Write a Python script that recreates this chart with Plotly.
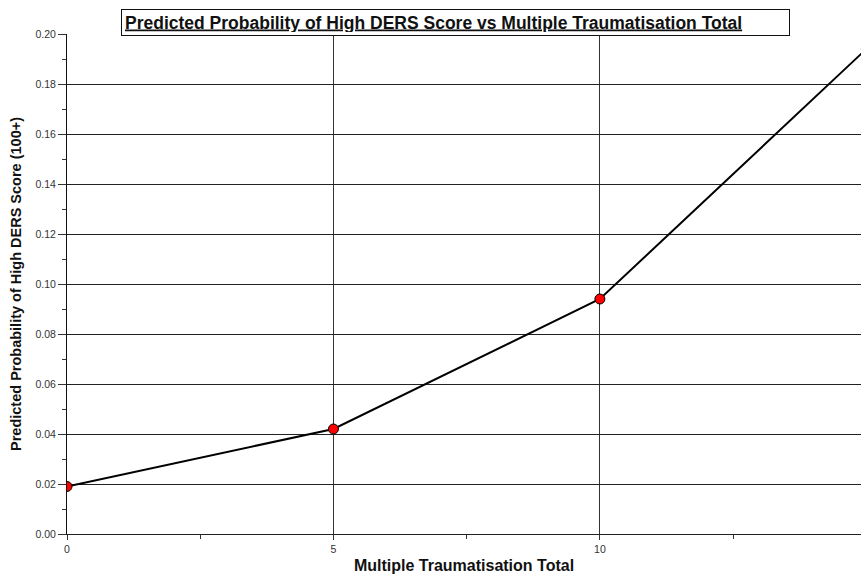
import plotly.graph_objects as go

x_vals = [0, 5, 10, 15]
y_vals = [0.019, 0.042, 0.094, 0.194]
x_ticks = [0, 5, 10, 15]
y_ticks = [0, 0.02, 0.04, 0.06, 0.08, 0.10, 0.12, 0.14, 0.16, 0.18, 0.20]

FONT = "Liberation Sans, Arial, sans-serif"

fig = go.Figure()
fig.add_trace(go.Scatter(
    x=x_vals, y=y_vals, mode="lines+markers",
    line=dict(color="black", width=2),
    marker=dict(color="red", size=10, line=dict(color="black", width=1)),
    showlegend=False, cliponaxis=True,
))

fig.update_layout(
    width=861, height=574,
    margin=dict(l=67, r=0, t=34, b=40, autoexpand=False),
    paper_bgcolor="white", plot_bgcolor="white",
    font=dict(family=FONT, color="#222"),
    xaxis=dict(
        range=[0, 14.9], tickmode="array", tickvals=x_ticks,
        ticktext=[str(v) for v in x_ticks], automargin=False,
        showgrid=True, gridcolor="#333", gridwidth=1,
        showline=True, linecolor="#222", linewidth=1,
        ticks="outside", ticklen=5, tickcolor="#333",
        tickfont=dict(size=10.5, color="#333", family=FONT),
        minor=dict(tickvals=[2.5, 7.5, 12.5], ticks="outside", ticklen=4, tickcolor="#333", showgrid=False),
        zeroline=False,
        title=dict(text="<b>Multiple Traumatisation Total</b>", font=dict(size=16, color="#111", family=FONT), standoff=7),
    ),
    yaxis=dict(
        range=[0, 0.2], tickmode="array", automargin=False,
        tickvals=y_ticks,
        ticktext=["%.2f" % v for v in y_ticks],
        showgrid=True, gridcolor="#222", gridwidth=1,
        showline=True, linecolor="#111", linewidth=1,
        ticks="outside", ticklen=8, tickcolor="#333",
        tickfont=dict(size=10.5, color="#333", family=FONT),
        minor=dict(dtick=0.01, ticks="outside", ticklen=4, tickcolor="#333", showgrid=False),
        zeroline=False,
        title=dict(text="<b>Predicted Probability of High DERS Score (100+)</b>", font=dict(size=14.5, color="#111", family=FONT), standoff=10),
    ),
    annotations=[dict(
        text="<b><u>Predicted Probability of High DERS Score vs Multiple Traumatisation Total</u></b>",
        xref="paper", yref="paper", x=(121 - 67) / 794, y=(534 - 22.5) / 500,
        xanchor="left", yanchor="middle", showarrow=False, align="left",
        width=661, height=19,
        font=dict(size=17.5, color="#111", family=FONT),
        bgcolor="white", bordercolor="#111", borderwidth=1, borderpad=3,
    )],
)
fig.write_html(
    "out.html",
    config={"displayModeBar": False},
    post_script="document.body.style.margin='0';document.body.style.overflow='hidden';",
)
